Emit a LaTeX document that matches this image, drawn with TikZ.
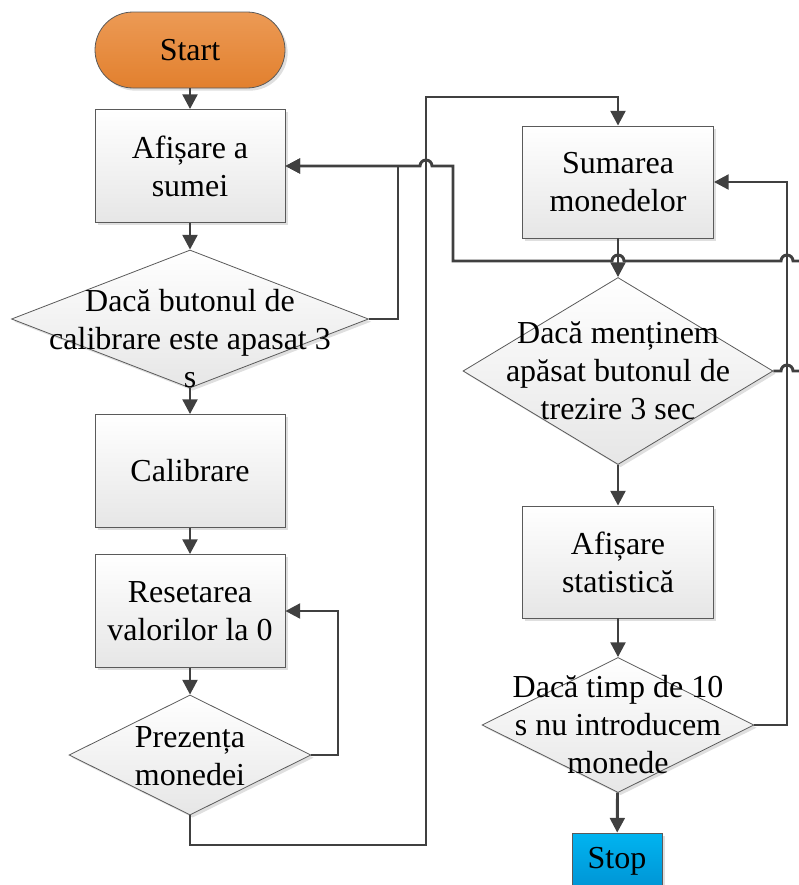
\documentclass[tikz,border=0pt]{standalone}
\usepackage{fontspec}
\setmainfont{Liberation Serif}
\newfontfamily\tnr{Liberation Serif}
\usetikzlibrary{shapes.geometric,arrows.meta,shadows}
\definecolor{ln}{HTML}{404040}
\definecolor{bd}{HTML}{5A5A5A}
\definecolor{boxg}{HTML}{E6E6E6}
\definecolor{orT}{HTML}{EC9A55}
\definecolor{orB}{HTML}{E2802E}
\definecolor{blT}{HTML}{00B4F0}
\definecolor{blB}{HTML}{0094D4}
\begin{document}
\begin{tikzpicture}[x=0.75pt,y=-0.75pt,
  font=\tnr\fontsize{24}{28.5}\selectfont,
  shad/.style={drop shadow={shadow xshift=2pt,shadow yshift=-2pt,opacity=0.25,fill=gray}},
  proc/.style={rectangle,draw=bd,line width=0.6pt,top color=white,bottom color=boxg,
    inner sep=0pt,align=center,minimum width=142.5pt,minimum height=84.75pt,shad},
  dec/.style={diamond,draw=bd,line width=0.6pt,top color=white,bottom color=boxg,inner sep=0pt,shad},
  txt/.style={align=center,inner sep=0pt},
  conn/.style={draw=ln,line width=2.2pt,-{Triangle[length=11pt,width=11pt]}},
]
\useasboundingbox (0,0) rectangle (799,885);

% left column
\node[rectangle,rounded corners=28.5pt,draw=bd,line width=0.6pt,top color=orT,bottom color=orB,
  minimum width=142.5pt,minimum height=57pt,inner sep=0pt,shad] (start) at (190,50) {Start};
\node[proc] (afis) at (190,166) {Afișare a\\sumei};
\node[dec,minimum width=267.75pt,minimum height=103.5pt] (d1) at (190,319) {};
\node[txt] (d1t) at (190,339) {Dacă butonul de\\calibrare este apasat 3\\s};
\node[proc] (calib) at (190,471) {Calibrare};
\node[proc] (reset) at (190,611) {Resetarea\\valorilor la 0};
\node[dec,minimum width=181.5pt,minimum height=90pt] (d4) at (190,755) {};
\node[txt] (d4t) at (190,756) {Prezența\\monedei};

% right column
\node[proc,minimum width=143.25pt,minimum height=84pt] (sum) at (618,182) {Sumarea\\monedelor};
\node[dec,minimum width=232.5pt,minimum height=140.25pt] (d2) at (618,371) {};
\node[txt] (d2t) at (618,371) {Dacă menținem\\apăsat butonul de\\trezire 3 sec};
\node[proc,minimum width=143.25pt,minimum height=84pt] (stat) at (618,562) {Afișare\\statistică};
\node[dec,minimum width=204pt,minimum height=101.25pt] (d3) at (618,725) {};
\node[txt] (d3t) at (618,725) {Dacă timp de 10\\s nu introducem\\monede};
\node[rectangle,draw=bd,line width=0.6pt,top color=blT,bottom color=blB,
  minimum width=67.5pt,minimum height=42pt,inner sep=0pt,shad] (stop) at (617,861) {Stop};

% straight arrows
\draw[conn] (start) -- (afis);
\draw[conn] (afis) -- (d1);
\draw[conn] (d1) -- (calib);
\draw[conn] (calib) -- (reset);
\draw[conn] (reset) -- (d4);
\draw[conn] (d2) -- (stat);
\draw[conn] (stat) -- (d3);
\draw[conn] (d3) -- (stop);
\draw[conn] (sum) -- (d2);

% loops
\draw[conn] (d4.east) -- (338,755) -- (338,611) -- (reset.east);
\draw[conn] (d4.south) -- (190,845) -- (426,845) -- (426,97) -- (618,97) -- (sum.north);
\draw[conn] (d1.east) -- (398,319) -- (398,166) -- (afis.east);
\draw[conn] (d3.east) -- (787,725) -- (787,182) -- (sum.east);
\draw[conn] (d2.east) -- (781,371) arc[start angle=180,end angle=0,radius=4.5pt] -- (815,371)
  -- (815,261) -- (793,261) arc[start angle=0,end angle=180,radius=4.5pt]
  -- (624,261) arc[start angle=0,end angle=180,radius=4.5pt]
  -- (453,261) -- (453,166) -- (432,166) arc[start angle=0,end angle=180,radius=4.5pt]
  -- (398,166) -- (afis.east);
\end{tikzpicture}
\end{document}
